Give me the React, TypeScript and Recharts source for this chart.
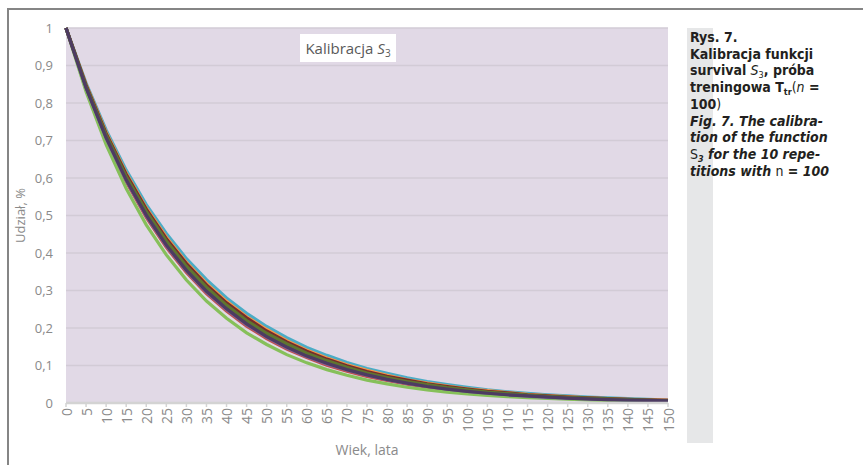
import { CartesianGrid, Line, LineChart, XAxis, YAxis } from "recharts";

// age in years (category axis, every 5)
const ages = [
  0, 5, 10, 15, 20, 25, 30, 35, 40, 45, 50, 55, 60, 65, 70, 75, 80, 85, 90, 95, 100, 105, 110, 115,
  120, 125, 130, 135, 140, 145, 150,
];

const yTicks = [0, 0.1, 0.2, 0.3, 0.4, 0.5, 0.6, 0.7, 0.8, 0.9, 1];

// 10 repetitions of the S3 calibration
const rep1 = [1, 0.842, 0.709, 0.597, 0.503, 0.423, 0.356, 0.3, 0.253, 0.213, 0.179, 0.151, 0.127, 0.107, 0.09, 0.076, 0.064, 0.054, 0.045, 0.038, 0.032, 0.027, 0.023, 0.019, 0.016, 0.014, 0.011, 0.01, 0.008, 0.007, 0.006];
const rep2 = [1, 0.839, 0.703, 0.59, 0.495, 0.415, 0.348, 0.292, 0.245, 0.205, 0.172, 0.144, 0.121, 0.101, 0.085, 0.071, 0.06, 0.05, 0.042, 0.035, 0.03, 0.025, 0.021, 0.017, 0.015, 0.012, 0.01, 0.009, 0.007, 0.006, 0.005];
const rep3 = [1, 0.83, 0.689, 0.572, 0.475, 0.395, 0.328, 0.272, 0.226, 0.187, 0.156, 0.129, 0.107, 0.089, 0.074, 0.061, 0.051, 0.042, 0.035, 0.029, 0.024, 0.02, 0.017, 0.014, 0.012, 0.01, 0.008, 0.007, 0.005, 0.005, 0.004];
const rep4 = [1, 0.84, 0.706, 0.593, 0.499, 0.419, 0.352, 0.296, 0.249, 0.209, 0.176, 0.147, 0.124, 0.104, 0.088, 0.074, 0.062, 0.052, 0.044, 0.037, 0.031, 0.026, 0.022, 0.018, 0.015, 0.013, 0.011, 0.009, 0.008, 0.006, 0.005];
const rep5 = [1, 0.853, 0.728, 0.621, 0.529, 0.452, 0.385, 0.329, 0.28, 0.239, 0.204, 0.174, 0.148, 0.127, 0.108, 0.092, 0.079, 0.067, 0.057, 0.049, 0.042, 0.035, 0.03, 0.026, 0.022, 0.019, 0.016, 0.014, 0.012, 0.01, 0.008];
const rep6 = [1, 0.85, 0.722, 0.613, 0.52, 0.442, 0.375, 0.319, 0.271, 0.23, 0.196, 0.166, 0.141, 0.12, 0.102, 0.087, 0.074, 0.062, 0.053, 0.045, 0.038, 0.033, 0.028, 0.023, 0.02, 0.017, 0.014, 0.012, 0.01, 0.009, 0.008];
const rep7 = [1, 0.843, 0.71, 0.599, 0.505, 0.425, 0.358, 0.302, 0.255, 0.215, 0.181, 0.152, 0.128, 0.108, 0.091, 0.077, 0.065, 0.055, 0.046, 0.039, 0.033, 0.028, 0.023, 0.02, 0.017, 0.014, 0.012, 0.01, 0.008, 0.007, 0.006];
const rep8 = [1, 0.848, 0.719, 0.61, 0.517, 0.438, 0.372, 0.315, 0.267, 0.227, 0.192, 0.163, 0.138, 0.117, 0.099, 0.084, 0.071, 0.061, 0.051, 0.044, 0.037, 0.031, 0.027, 0.022, 0.019, 0.016, 0.014, 0.012, 0.01, 0.008, 0.007];
const rep9 = [1, 0.845, 0.715, 0.604, 0.511, 0.432, 0.365, 0.309, 0.261, 0.22, 0.186, 0.158, 0.133, 0.113, 0.095, 0.08, 0.068, 0.057, 0.049, 0.041, 0.035, 0.029, 0.025, 0.021, 0.018, 0.015, 0.013, 0.011, 0.009, 0.008, 0.006];
const rep10 = [1, 0.841, 0.708, 0.595, 0.501, 0.421, 0.354, 0.298, 0.251, 0.211, 0.177, 0.149, 0.125, 0.106, 0.089, 0.075, 0.063, 0.053, 0.044, 0.037, 0.031, 0.026, 0.022, 0.019, 0.016, 0.013, 0.011, 0.009, 0.008, 0.007, 0.006];

const reps = [rep1, rep2, rep3, rep4, rep5, rep6, rep7, rep8, rep9, rep10];
const colors = [
  "#4f81bd", "#c0504d", "#86c05a", "#8064a2", "#4bacc6",
  "#f79646", "#2c4d75", "#772c2a", "#5f7530", "#4d3b62",
];

const data = ages.map((age, i) => {
  const row: Record<string, number> = { age };
  reps.forEach((r, j) => (row[`r${j + 1}`] = r[i]));
  return row;
});

const axisGray = "#8a8a8a";

function AgeTick(props: any) {
  const { x, y, payload } = props;
  return (
    <text
      x={x}
      y={y}
      transform={`rotate(-90 ${x} ${y})`}
      textAnchor="end"
      dominantBaseline="central"
      fill={axisGray}
      fontSize={14}
    >
      {payload.value}
    </text>
  );
}

const captionFont = "'Liberation Sans Narrow', 'DejaVu Sans Condensed', 'Noto Sans', sans-serif";

// subscript that does not push the line box apart
const sub = (extra: React.CSSProperties = {}): React.CSSProperties => ({
  fontSize: 9,
  position: "relative",
  top: 3,
  lineHeight: 0,
  ...extra,
});

export default function App() {
  return (
    <div
      style={{
        position: "absolute",
        left: 0,
        top: 0,
        width: 863,
        height: 465,
        background: "#fff",
        fontFamily: "'Open Sans', sans-serif",
        overflow: "hidden",
      }}
    >
      {/* frame */}
      <div style={{ position: "absolute", left: 7, top: 8, width: 856, height: 2, background: "#858585" }} />
      <div style={{ position: "absolute", left: 7, top: 8, width: 2, height: 457, background: "#858585" }} />

      {/* grey strip behind caption */}
      <div style={{ position: "absolute", left: 687, top: 28, width: 26, height: 415, background: "#e6e7e8" }} />

      <div style={{ position: "absolute", left: 0, top: 0 }}>
        <LineChart
          width={863}
          height={465}
          data={data}
          margin={{ top: 28, right: 195, left: 0, bottom: 0 }}
        >
          <CartesianGrid vertical={false} fill="#e1d9e6" stroke="#d2cbd6" strokeWidth={1.5} />
          <XAxis
            dataKey="age"
            interval={0}
            height={62}
            tick={AgeTick}
            tickSize={4}
            tickMargin={1}
            axisLine={{ stroke: "#d3d3d3", strokeWidth: 2.5 }}
            tickLine={{ stroke: "#d3d3d3", strokeWidth: 1.5 }}
            label={{ value: "Wiek, lata", position: "insideBottom", offset: 10, fill: axisGray, fontSize: 14 }}
          />
          <YAxis
            domain={[0, 1]}
            ticks={yTicks}
            width={66}
            axisLine={false}
            tickLine={false}
            tickSize={0}
            tickMargin={13}
            tick={{ fill: axisGray, fontSize: 13 }}
            tickFormatter={(v: number) => String(Math.round(v * 10) / 10).replace(".", ",")}
            label={{
              value: "Udział, %",
              angle: -90,
              position: "insideLeft",
              offset: 20,
              fill: axisGray,
              fontSize: 13,
              style: { textAnchor: "middle" },
            }}
          />
          {reps.map((_, j) => (
            <Line
              key={j}
              dataKey={`r${j + 1}`}
              type="linear"
              stroke={colors[j]}
              strokeWidth={3.2}
              dot={false}
              isAnimationActive={false}
            />
          ))}
        </LineChart>
      </div>

      {/* chart title box */}
      <div
        style={{
          position: "absolute",
          left: 300,
          top: 34,
          width: 96,
          height: 28,
          background: "#fff",
          color: "#595959",
          fontSize: 15,
          lineHeight: "28px",
          textAlign: "center",
          whiteSpace: "nowrap",
        }}
      >
        Kalibracja <span style={{ fontStyle: "italic" }}>S</span>
        <span style={sub({ fontSize: 10 })}>3</span>
      </div>

      {/* caption */}
      <div
        style={{
          position: "absolute",
          left: 690,
          top: 29,
          fontFamily: captionFont,
          fontWeight: "bold",
          fontSize: 14,
          lineHeight: "16.7px",
          color: "#231f20",
          whiteSpace: "nowrap",
        }}
      >
        <div>Rys. 7.</div>
        <div>Kalibracja funkcji</div>
        <div>
          survival <span style={{ fontStyle: "italic", fontWeight: "normal" }}>S</span>
          <span style={sub({ fontWeight: "normal" })}>3</span>, próba
        </div>
        <div>
          treningowa T<span style={sub()}>tr</span>
          <span style={{ fontWeight: "normal" }}>(</span>
          <span style={{ fontStyle: "italic", fontWeight: "normal" }}>n</span> =
        </div>
        <div>
          100<span style={{ fontWeight: "normal" }}>)</span>
        </div>
        <div style={{ fontStyle: "italic" }}>Fig. 7. The calibra-</div>
        <div style={{ fontStyle: "italic" }}>tion of the function</div>
        <div style={{ fontStyle: "italic" }}>
          <span style={{ fontStyle: "normal", fontWeight: "normal" }}>S</span>
          <span style={sub()}>3</span> for the 10 repe-
        </div>
        <div style={{ fontStyle: "italic" }}>
          titions with <span style={{ fontStyle: "normal", fontWeight: "normal" }}>n</span> = 100
        </div>
      </div>
    </div>
  );
}
